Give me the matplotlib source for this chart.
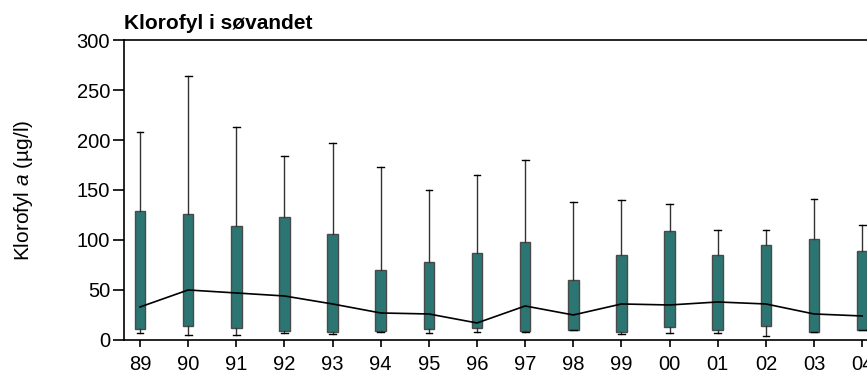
import matplotlib.pyplot as plt

plt.rcParams['font.family'] = ['Liberation Sans', 'DejaVu Sans']
plt.rcParams['mathtext.fontset'] = 'custom'
plt.rcParams['mathtext.it'] = 'Liberation Sans:italic'
plt.rcParams['mathtext.rm'] = 'Liberation Sans'

years = ['89', '90', '91', '92', '93', '94', '95', '96', '97', '98', '99', '00', '01', '02', '03', '04']
low = [7, 5, 5, 7, 6, 8, 7, 8, 8, 9.5, 6, 7, 7, 4, 8, 9.5]
q1 = [11, 14, 12, 9, 8, 9, 11, 12, 9, 10, 8, 13, 10, 14, 8, 10]
q3 = [129, 126, 114, 123, 106, 70, 78, 87, 98, 60, 85, 109, 85, 95, 101, 89]
high = [208, 264, 213, 184, 197, 173, 150, 165, 180, 138, 140, 136, 110, 110, 141, 115]
middle = [33, 50, 47, 44, 36, 27, 26, 17, 34, 25, 36, 35, 38, 36, 26, 24]

# box statistics for bxp
stats = []
for i in range(len(years)):
    stats.append({'whislo': low[i], 'q1': q1[i], 'med': middle[i],
                  'q3': q3[i], 'whishi': high[i], 'fliers': []})

fig = plt.figure(figsize=(8.67, 3.74), dpi=100)
ax = fig.add_axes([0.143, 0.091, 0.857, 0.802])

pos = list(range(len(years)))
ax.bxp(stats, positions=pos, widths=0.22, capwidths=0.14, patch_artist=True,
       showfliers=False,
       boxprops={'facecolor': '#2b7573', 'edgecolor': '#4a4a4a', 'linewidth': 1.0},
       whiskerprops={'color': '#333333', 'linewidth': 1.0},
       capprops={'color': 'black', 'linewidth': 1.0},
       medianprops={'linewidth': 0})
ax.plot(pos, middle, c='black', lw=1.2, zorder=5)

ax.set_xlim(-0.333, 15.1)
ax.set_ylim(0, 300)
ax.set_yticks([0, 50, 100, 150, 200, 250, 300])
ax.set_xticks(pos)
ax.set_xticklabels(years)
ax.spines['right'].set_visible(False)
for s in ['left', 'bottom', 'top']:
    ax.spines[s].set_linewidth(1.2)
ax.tick_params(axis='y', length=8, width=1.2, labelsize=14.5, pad=2)
ax.tick_params(axis='x', length=5, width=1.2, labelsize=14.5, pad=6)
ax.set_ylabel('Klorofyl $\\mathit{a}$ (µg/l)', fontsize=15, labelpad=30)
ax.set_title('Klorofyl i søvandet', loc='left', fontsize=15, fontweight='bold', pad=8)

plt.savefig('out.png', dpi=100)
